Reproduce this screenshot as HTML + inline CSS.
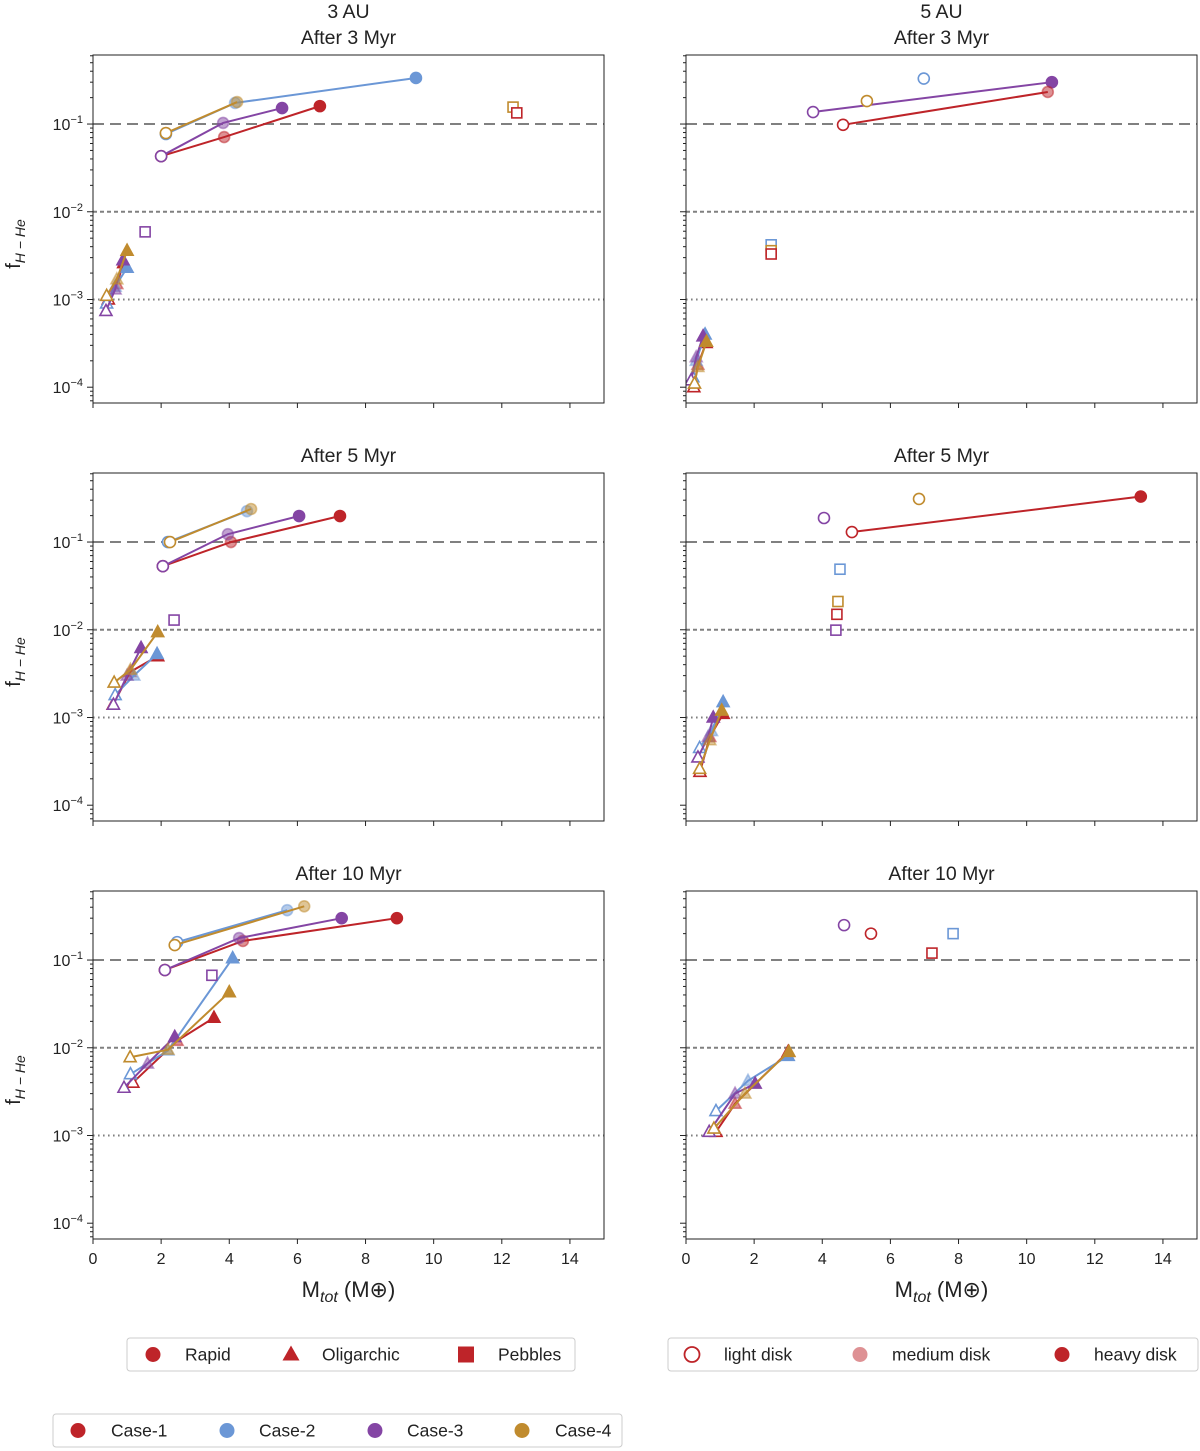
<!DOCTYPE html>
<html><head><meta charset="utf-8"><style>
body{margin:0;background:#fff;width:1200px;height:1451px;overflow:hidden;font-family:"Liberation Sans","DejaVu Sans",sans-serif}
svg{display:block}
</style></head><body>
<svg id="chart" width="1200" height="1451" xmlns="http://www.w3.org/2000/svg"></svg>
<script>
// Series: case (1-4), marker (c=rapid, t=oligarchic, s=pebbles), x mass, y fraction, disk (L light, M medium, H heavy)
const panelA = [
 {c:1,m:'c',x:[2.0,3.85,6.66],y:[0.043,0.071,0.16],d:['L','M','H']},
 {c:2,m:'c',x:[2.14,4.17,9.48],y:[0.077,0.174,0.335],d:['L','M','H']},
 {c:3,m:'c',x:[2.0,3.82,5.55],y:[0.043,0.103,0.152],d:['L','M','H']},
 {c:4,m:'c',x:[2.14,4.23],y:[0.079,0.178],d:['L','M']},
 {c:1,m:'t',x:[0.45,0.7,0.9],y:[0.001,0.0015,0.0026],d:['L','M','H']},
 {c:2,m:'t',x:[0.4,0.65,1.0],y:[0.0009,0.0014,0.0023],d:['L','M','H']},
 {c:3,m:'t',x:[0.38,0.65,0.88],y:[0.00074,0.0013,0.0028],d:['L','M','H']},
 {c:4,m:'t',x:[0.4,0.7,1.0],y:[0.0011,0.0017,0.0036],d:['L','M','H']},
 {c:3,m:'s',x:[1.53],y:[0.0059],d:['L']},
 {c:4,m:'s',x:[12.33],y:[0.156],d:['L']},
 {c:1,m:'s',x:[12.44],y:[0.134],d:['L']}
];
const panelB = [
 {c:3,m:'c',x:[3.73,10.74],y:[0.137,0.30],d:['L','H']},
 {c:1,m:'c',x:[4.61,10.62],y:[0.098,0.232],d:['L','M']},
 {c:2,m:'c',x:[6.98],y:[0.33],d:['L']},
 {c:4,m:'c',x:[5.31],y:[0.183],d:['L']},
 {c:1,m:'t',x:[0.23,0.35,0.59],y:[0.0001,0.00018,0.00032],d:['L','M','H']},
 {c:2,m:'t',x:[0.2,0.3,0.56],y:[0.00013,0.0002,0.0004],d:['L','M','H']},
 {c:3,m:'t',x:[0.15,0.3,0.5],y:[0.00012,0.00022,0.00038],d:['L','M','H']},
 {c:4,m:'t',x:[0.25,0.35,0.6],y:[0.00011,0.00017,0.00033],d:['L','M','H']},
 {c:2,m:'s',x:[2.5],y:[0.0042],d:['L']},
 {c:4,m:'s',x:[2.5],y:[0.0036],d:['L']},
 {c:1,m:'s',x:[2.5],y:[0.0033],d:['L']}
];
const panelC = [
 {c:1,m:'c',x:[2.05,4.05,7.25],y:[0.053,0.1,0.198],d:['L','M','H']},
 {c:2,m:'c',x:[2.2,4.52],y:[0.1,0.225],d:['L','M']},
 {c:3,m:'c',x:[2.05,3.96,6.05],y:[0.053,0.123,0.198],d:['L','M','H']},
 {c:4,m:'c',x:[2.26,4.64],y:[0.1,0.238],d:['L','M']},
 {c:1,m:'t',x:[0.59,1.09,1.9],y:[0.0014,0.0033,0.005],d:['L','M','H']},
 {c:2,m:'t',x:[0.65,1.2,1.88],y:[0.0018,0.003,0.0053],d:['L','M','H']},
 {c:3,m:'t',x:[0.6,1.0,1.41],y:[0.0014,0.003,0.0062],d:['L','M','H']},
 {c:4,m:'t',x:[0.62,1.1,1.9],y:[0.0025,0.0035,0.0094],d:['L','M','H']},
 {c:3,m:'s',x:[2.38],y:[0.0129],d:['L']}
];
const panelD = [
 {c:3,m:'c',x:[4.05],y:[0.188],d:['L']},
 {c:1,m:'c',x:[4.87,13.35],y:[0.13,0.33],d:['L','H']},
 {c:4,m:'c',x:[6.84],y:[0.31],d:['L']},
 {c:2,m:'s',x:[4.52],y:[0.049],d:['L']},
 {c:4,m:'s',x:[4.46],y:[0.021],d:['L']},
 {c:1,m:'s',x:[4.43],y:[0.015],d:['L']},
 {c:3,m:'s',x:[4.4],y:[0.0099],d:['L']},
 {c:1,m:'t',x:[0.41,0.7,1.09],y:[0.00024,0.0006,0.0011],d:['L','M','H']},
 {c:2,m:'t',x:[0.4,0.75,1.09],y:[0.00045,0.0007,0.0015],d:['L','M','H']},
 {c:3,m:'t',x:[0.35,0.65,0.8],y:[0.00035,0.0006,0.001],d:['L','M','H']},
 {c:4,m:'t',x:[0.4,0.7,1.05],y:[0.00026,0.00055,0.0012],d:['L','M','H']}
];
const panelE = [
 {c:1,m:'c',x:[2.11,4.4,8.92],y:[0.077,0.165,0.3],d:['L','M','H']},
 {c:2,m:'c',x:[2.47,5.7],y:[0.16,0.37],d:['L','M']},
 {c:3,m:'c',x:[2.11,4.29,7.3],y:[0.077,0.178,0.3],d:['L','M','H']},
 {c:4,m:'c',x:[2.4,6.2],y:[0.148,0.41],d:['L','M']},
 {c:1,m:'t',x:[1.17,2.47,3.55],y:[0.004,0.012,0.022],d:['L','M','H']},
 {c:2,m:'t',x:[1.1,2.2,4.1],y:[0.005,0.0093,0.105],d:['L','M','H']},
 {c:3,m:'t',x:[0.91,1.6,2.4],y:[0.0035,0.0066,0.0133],d:['L','M','H']},
 {c:4,m:'t',x:[1.09,2.2,4.0],y:[0.0078,0.0095,0.043],d:['L','M','H']},
 {c:3,m:'s',x:[3.49],y:[0.067],d:['L']}
];
const panelF = [
 {c:3,m:'c',x:[4.64],y:[0.25],d:['L']},
 {c:1,m:'c',x:[5.43],y:[0.2],d:['L']},
 {c:2,m:'s',x:[7.84],y:[0.2],d:['L']},
 {c:1,m:'s',x:[7.22],y:[0.12],d:['L']},
 {c:1,m:'t',x:[0.88,1.44,3.0],y:[0.0011,0.0023,0.009],d:['L','M','H']},
 {c:2,m:'t',x:[0.88,1.82,3.0],y:[0.0019,0.0042,0.0081],d:['L','M','H']},
 {c:3,m:'t',x:[0.68,1.44,2.03],y:[0.0011,0.003,0.0039],d:['L','M','H']},
 {c:4,m:'t',x:[0.82,1.73,3.02],y:[0.0012,0.003,0.009],d:['L','M','H']}
];
const xTicks = [0,2,4,6,8,10,12,14];
const yTicks = [-4,-3,-2,-1];
const refLines = [0.1,0.01,0.001];

const COL = {1:'#be2429',2:'#6b97d6',3:'#8445a4',4:'#c08b2e'};
const NS='http://www.w3.org/2000/svg';
const svg=document.getElementById('chart');
function mk(tag,attrs,parent){const e=document.createElementNS(NS,tag);for(const k in attrs)e.setAttribute(k,attrs[k]);(parent||svg).appendChild(e);return e;}

const panels=[
 {data:panelA,x0:93,y0:55,name:'panel-3au-3myr',title:'After 3 Myr',top:'3 AU',xl:false},
 {data:panelB,x0:686,y0:55,name:'panel-5au-3myr',title:'After 3 Myr',top:'5 AU',xl:false},
 {data:panelC,x0:93,y0:473,name:'panel-3au-5myr',title:'After 5 Myr',xl:false},
 {data:panelD,x0:686,y0:473,name:'panel-5au-5myr',title:'After 5 Myr',xl:false},
 {data:panelE,x0:93,y0:891,name:'panel-3au-10myr',title:'After 10 Myr',xl:true},
 {data:panelF,x0:686,y0:891,name:'panel-5au-10myr',title:'After 10 Myr',xl:true}
];
const W=511,H=348, LMAX=-0.213, LMIN=-4.18;

panels.forEach((p,pi)=>{
 const g=mk('g',{});
 
 
 const sx=v=>p.x0+v/15*W;
 const sy=v=>p.y0+(LMAX-Math.log10(v))/(LMAX-LMIN)*H;
 // ref lines
 refLines.forEach((r,i)=>{
  const l=mk('line',{x1:p.x0,x2:p.x0+W,y1:sy(r),y2:sy(r),stroke:'#808080','stroke-width':2,'stroke-dasharray':['11,6','4,3','1.6,3.4'][i]},g);
  
  
 });
 // series
 const clip='clip'+pi;
 const cp=mk('clipPath',{id:clip},g);mk('rect',{x:p.x0,y:p.y0,width:W,height:H},cp);
 const sg=mk('g',{'clip-path':'url(#'+clip+')'},g);
 p.data.forEach(s=>{
  const col=COL[s.c];
  if(s.x.length>1){
   const pts=s.x.map((v,i)=>sx(v)+','+sy(s.y[i])).join(' ');
   const pl=mk('polyline',{points:pts,fill:'none',stroke:col,'stroke-width':2},sg);
   
   
  }
  s.x.forEach((v,i)=>{
   const cx=sx(v),cy=sy(s.y[i]),dk=s.d[i];
   const fill=dk==='L'?'#fff':col, fo=dk==='M'?0.5:1;
   let e;
   const at={fill:fill,'fill-opacity':fo,stroke:col,'stroke-width':1.6,'stroke-opacity':dk==='M'?0.5:1};
   if(s.m==='c'){e=mk('circle',Object.assign({cx:cx,cy:cy,r:5.5},at),sg);}
   else if(s.m==='t'){e=mk('polygon',Object.assign({points:`${cx},${cy-6.5} ${cx-6},${cy+4.5} ${cx+6},${cy+4.5}`},at),sg);}
   else {e=mk('rect',Object.assign({x:cx-5,y:cy-5,width:10,height:10},at),sg);}
   
   
  });
 });
 // frame
 const fr=mk('rect',{x:p.x0,y:p.y0,width:W,height:H,fill:'none',stroke:'#222','stroke-width':1},g);
 
 
 // x ticks
 xTicks.forEach(t=>{
  mk('line',{x1:sx(t),x2:sx(t),y1:p.y0+H,y2:p.y0+H+5,stroke:'#222','stroke-width':1},g);
  if(p.xl){
   const tx=mk('text',{x:sx(t),y:p.y0+H+25,'text-anchor':'middle','font-size':16,fill:'#222'},g);
   tx.textContent=t;
   
   
  }
 });
 // y ticks
 yTicks.forEach(t=>{
  const y=sy(Math.pow(10,t));
  mk('line',{x1:p.x0-6,x2:p.x0,y1:y,y2:y,stroke:'#222','stroke-width':1},g);
  for(let m=2;m<=9;m++){const ym=sy(m*Math.pow(10,t));if(ym>p.y0&&ym<p.y0+H)mk('line',{x1:p.x0-3,x2:p.x0,y1:ym,y2:ym,stroke:'#222','stroke-width':1},g);}
  if(pi%2===0){
   const tx=mk('text',{x:p.x0-10,y:y+6,'text-anchor':'end','font-size':16,fill:'#222'},g);
   tx.innerHTML='10<tspan dy="-7" font-size="11">−'+(-t)+'</tspan>';
   
   
  }
 });
 for(let m=2;m<=9;m++){const ym=sy(m*1e-5);if(ym>p.y0&&ym<p.y0+H)mk('line',{x1:p.x0-3,x2:p.x0,y1:ym,y2:ym,stroke:'#222'},g);}
 // titles
 const tt=mk('text',{x:p.x0+W/2,y:p.y0-11,'text-anchor':'middle','font-size':19.5,fill:'#222'},g);
 tt.textContent=p.title;
 
 
 if(p.top){
  const t2=mk('text',{x:p.x0+W/2,y:p.y0-37,'text-anchor':'middle','font-size':19.5,fill:'#222'},g);
  t2.textContent=p.top;
  
  
 }
 if(pi%2===0){
  const cy=p.y0+H/2+15;
  const yl=mk('text',{x:0,y:0,transform:`translate(20,${cy}) rotate(-90)`,'text-anchor':'middle','font-size':20,fill:'#222'},g);
  yl.innerHTML='f<tspan dy="5" font-size="14" font-style="italic">H − He</tspan>';
  
  
 }
 if(p.xl){
  const xl=mk('text',{x:p.x0+W/2,y:p.y0+H+58,'text-anchor':'middle','font-size':22,fill:'#222'},g);
  xl.innerHTML='M<tspan dy="5" font-size="16" font-style="italic">tot</tspan><tspan dy="-5"> (M⊕)</tspan>';
  
  
 }
});

// legends
function legend(name,x,y,w,h,items){
 const g=mk('g',{});
 
 
 mk('rect',{x:x,y:y,width:w,height:h,rx:3,fill:'#fff',stroke:'#ccc','stroke-width':1},g);
 items.forEach(it=>{
  const cy=y+h/2;let e;
  if(it.m==='c')e=mk('circle',{cx:it.mx,cy:cy,r:7.5,fill:it.f,'fill-opacity':it.o||1,stroke:it.col,'stroke-width':it.f==='#fff'?1.8:0},g);
  else if(it.m==='t')e=mk('polygon',{points:`${it.mx},${cy-9} ${it.mx-8.5},${cy+6} ${it.mx+8.5},${cy+6}`,fill:it.col},g);
  else e=mk('rect',{x:it.mx-8,y:cy-8,width:16,height:16,fill:it.col},g);
  
  
  const t=mk('text',{x:it.tx,y:cy+6,'font-size':17.5,fill:'#222'},g);
  t.textContent=it.t;
  
  
 });
}
const R=COL[1];
legend('legend-growth-mode',127,1338,448,33,[
 {m:'c',mx:153,tx:185,t:'Rapid',f:R,col:R},
 {m:'t',mx:291,tx:322,t:'Oligarchic',f:R,col:R},
 {m:'s',mx:466,tx:498,t:'Pebbles',f:R,col:R}]);
legend('legend-disk-mass',668,1338,530,33,[
 {m:'c',mx:692,tx:724,t:'light disk',f:'#fff',col:R},
 {m:'c',mx:860,tx:892,t:'medium disk',f:R,o:0.5,col:R},
 {m:'c',mx:1062,tx:1094,t:'heavy disk',f:R,col:R}]);
legend('legend-cases',53,1414,569,33,[
 {m:'c',mx:78,tx:111,t:'Case-1',f:COL[1],col:COL[1]},
 {m:'c',mx:227,tx:259,t:'Case-2',f:COL[2],col:COL[2]},
 {m:'c',mx:375,tx:407,t:'Case-3',f:COL[3],col:COL[3]},
 {m:'c',mx:522,tx:555,t:'Case-4',f:COL[4],col:COL[4]}]);
</script>
</body></html>
